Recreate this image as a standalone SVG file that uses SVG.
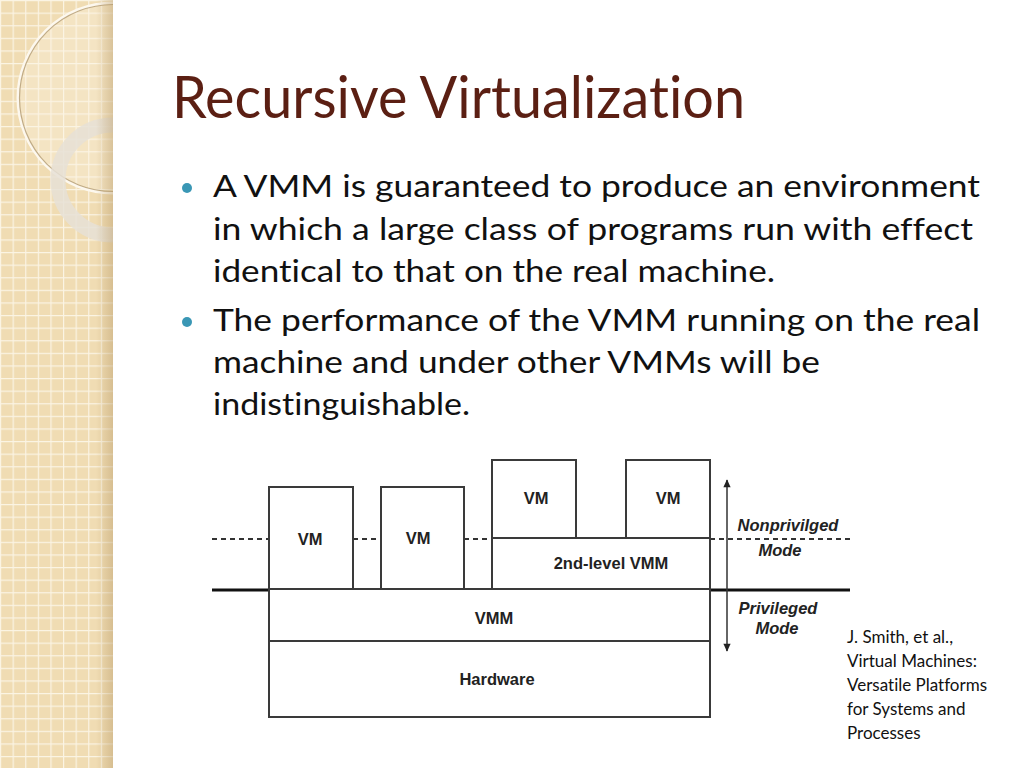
<svg xmlns="http://www.w3.org/2000/svg" width="1024" height="768" viewBox="0 0 1024 768">
<defs>
<pattern id="grid" width="12.6" height="12.6" patternUnits="userSpaceOnUse">
<rect width="12.6" height="12.6" fill="#f0dcb3"/>
<path d="M0 0.5H12.6M0.5 0V12.6" stroke="#fbf4e4" stroke-width="1.4" fill="none"/>
</pattern>
<linearGradient id="edge" x1="0" y1="0" x2="1" y2="0">
<stop offset="0" stop-color="#b89a66" stop-opacity="0"/>
<stop offset="1" stop-color="#b89a66" stop-opacity="0.45"/>
</linearGradient>
<clipPath id="side"><rect x="0" y="0" width="113" height="768"/></clipPath>
<marker id="ah" viewBox="0 0 10 10" refX="9" refY="5" markerWidth="10" markerHeight="8" orient="auto-start-reverse" markerUnits="userSpaceOnUse">
<path d="M0 0.5L10 5L0 9.5Z" fill="#222"/>
</marker>
</defs>
<style>
text{font-variant-ligatures:none;font-feature-settings:"liga" 0,"dlig" 0,"clig" 0}
.title{font-family:Lato,"Open Sans",sans-serif;font-size:58px;fill:#5b1f13}
.body{font-family:Lato,"Open Sans",sans-serif;font-size:30px;fill:#111}
.cite{font-family:Lato,"Open Sans",sans-serif;font-size:17px;fill:#111}
.box{fill:#fff;stroke:#3a3a3a;stroke-width:2}
.lbl{font-family:"Liberation Sans",Arial,sans-serif;font-weight:bold;font-size:16.5px;fill:#222;text-anchor:middle}
.mode{font-family:"Liberation Sans",Arial,sans-serif;font-weight:bold;font-style:italic;font-size:16.5px;fill:#222;text-anchor:middle}
.dash{stroke:#333;stroke-width:2;stroke-dasharray:5 4;fill:none}
.solid{stroke:#111;stroke-width:3;fill:none}
</style>
<rect width="1024" height="768" fill="#fff"/>
<g id="sidebar" clip-path="url(#side)">
<rect x="0" y="0" width="113" height="768" fill="url(#grid)"/>
<circle cx="113" cy="98" r="95" fill="#fbf3e2" fill-opacity="0.35" stroke="#fdf8ee" stroke-width="3"/>
<circle cx="113" cy="98" r="93.5" fill="none" stroke="#a88e62" stroke-width="1.2" stroke-opacity="0.7"/>
<circle cx="113" cy="180" r="55" fill="none" stroke="#e6e1d6" stroke-opacity="0.85" stroke-width="15"/>
<rect x="96" y="0" width="17" height="768" fill="url(#edge)"/>
</g>
<text class="title" x="172" y="118" textLength="573" lengthAdjust="spacingAndGlyphs">Recursive Virtualization</text>
<g id="bullets">
<circle cx="187" cy="188" r="5" fill="#3a97b5"/>
<circle cx="187" cy="322" r="5" fill="#3a97b5"/>
<text class="body" x="213" y="197" textLength="767" lengthAdjust="spacingAndGlyphs">A VMM is guaranteed to produce an environment</text>
<text class="body" x="213" y="240" textLength="760" lengthAdjust="spacingAndGlyphs">in which a large class of programs run with effect</text>
<text class="body" x="213" y="282" textLength="562" lengthAdjust="spacingAndGlyphs">identical to that on the real machine.</text>
<text class="body" x="213" y="331" textLength="767" lengthAdjust="spacingAndGlyphs">The performance of the VMM running on the real</text>
<text class="body" x="213" y="373" textLength="607" lengthAdjust="spacingAndGlyphs">machine and under other VMMs will be</text>
<text class="body" x="213" y="415" textLength="257" lengthAdjust="spacingAndGlyphs">indistinguishable.</text>
</g>
<g id="connectors">
<path class="dash" d="M212 539H268M353 539H381M464 539H492M710 539H850"/>
<path class="solid" d="M212 590H268M710 590H850"/>
<line x1="727" y1="480" x2="727" y2="651" stroke="#333" stroke-width="1.5" marker-start="url(#ah)" marker-end="url(#ah)"/>
</g>
<g id="hardware"><rect class="box" x="269" y="641" width="441" height="76"/><text class="lbl" x="497" y="685">Hardware</text></g>
<g id="vmm"><rect class="box" x="269" y="589" width="441" height="52"/><text class="lbl" x="494" y="624">VMM</text></g>
<g id="vm1"><rect class="box" x="269" y="487" width="84" height="102"/><text class="lbl" x="310" y="545">VM</text></g>
<g id="vm2"><rect class="box" x="381" y="487" width="83" height="102"/><text class="lbl" x="418" y="544">VM</text></g>
<g id="vmm2"><rect class="box" x="492" y="538" width="218" height="51"/><text class="lbl" x="611" y="569">2nd-level VMM</text></g>
<g id="vm3"><rect class="box" x="492" y="460" width="84" height="78"/><text class="lbl" x="536" y="504">VM</text></g>
<g id="vm4"><rect class="box" x="626" y="460" width="84" height="78"/><text class="lbl" x="668" y="504">VM</text></g>
<g id="modes">
<text class="mode" x="788" y="531">Nonprivilged</text>
<text class="mode" x="780" y="556">Mode</text>
<text class="mode" x="778" y="614">Privileged</text>
<text class="mode" x="777" y="634">Mode</text>
</g>
<g id="citation">
<text class="cite" x="847" y="643">J. Smith, et al.,</text>
<text class="cite" x="847" y="667">Virtual Machines:</text>
<text class="cite" x="847" y="691">Versatile Platforms</text>
<text class="cite" x="847" y="715">for Systems and</text>
<text class="cite" x="847" y="739">Processes</text>
</g>
</svg>
